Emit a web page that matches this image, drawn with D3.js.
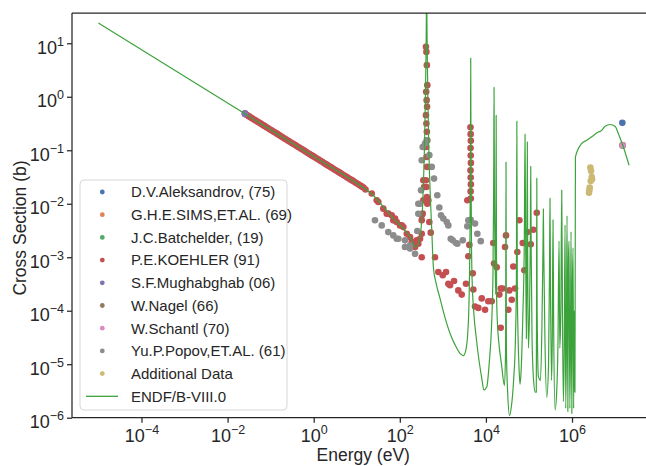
<!DOCTYPE html>
<html>
<head>
<meta charset="utf-8">
<script src="https://cdn.jsdelivr.net/npm/d3@7"></script>
<style>
  body { margin: 0; background: #fff; }
  text { font-family: "Liberation Sans", Arial, sans-serif; fill: #262626; }
</style>
</head>
<body>
<div id="chart"></div>
<script>
// ---- data (energy in eV, cross section in b) ----

// D.V.Aleksandrov, (75)
var aleksE = [0.0253, 1.476e7];
var aleksS = [0.49, 0.325];
// G.H.E.SIMS,ET.AL. (69)
var simsE = [1.49e7];
var simsS = [0.125];
// J.C.Batchelder, (19)
var batchE = [1.5e7];
var batchS = [0.122];
// P.E.KOEHLER (91)
var koehlerE = [0.0253, 0.028, 0.031, 0.034, 0.037, 0.041, 0.045, 0.05, 0.055, 0.06, 0.066, 0.072, 0.08, 0.088,
  0.097, 0.107, 0.118, 0.13, 0.143, 0.158, 0.174, 0.19, 0.21, 0.23, 0.255, 0.28, 0.31, 0.34, 0.375, 0.41, 0.45,
  0.5, 0.55, 0.6, 0.66, 0.73, 0.8, 0.88, 0.97, 1.07, 1.18, 1.3, 1.43, 1.58, 1.74, 1.92, 2.1, 2.3, 2.55, 2.8, 3.1,
  3.4, 3.75, 4.1, 4.5, 5, 5.5, 6, 6.6, 7.3, 8, 8.8, 9.7, 10.7, 11.8, 13, 14.3, 16,
  22.3, 29.1, 31.7, 41.4, 49.7, 54.1, 64.9, 70.6, 77.4, 84.7, 101, 111, 121, 145, 173, 189, 206, 226, 247, 269,
  295, 323, 323, 340, 352, 366, 352, 323, 323,
  405, 415, 425, 435, 410, 420, 430, 405, 415, 425, 435, 410, 420, 430, 405, 415, 425, 435,
  460, 485, 523, 658, 785, 993, 1186, 1340, 1469, 1816, 2286, 2742, 3451, 3908, 4121, 3707,
  4380, 4420, 4460, 4400, 4440, 4480, 4390, 4430, 4470, 4410, 4450,
  4943, 5105, 5585,
  6668, 8000, 9550, 11380, 13650, 14860, 15450, 17830, 22080, 24550, 20510, 27800, 29310, 33190, 35000, 39810,
  43350, 47530, 53700, 22080, 59840, 71600, 78160, 91600, 110000, 126500, 151700];
var koehlerS = [0.48, 0.455, 0.434, 0.413, 0.397, 0.377, 0.36, 0.342, 0.325, 0.312, 0.297, 0.285, 0.27, 0.257,
  0.245, 0.233, 0.222, 0.212, 0.202, 0.192, 0.183, 0.175, 0.166, 0.159, 0.151, 0.144, 0.137, 0.131, 0.125, 0.119, 0.114,
  0.108, 0.103, 0.0985, 0.094, 0.089, 0.085, 0.081, 0.0775, 0.0738, 0.0702, 0.0669, 0.0638, 0.0607, 0.0578, 0.055,
  0.0527, 0.0503, 0.0478, 0.0456, 0.0433, 0.0414, 0.0394, 0.0377, 0.036, 0.0341, 0.0325, 0.0311, 0.0297, 0.0282,
  0.027, 0.0257, 0.0245, 0.0233, 0.0222, 0.0211, 0.0201, 0.0185,
  0.0155, 0.0116, 0.0108, 0.0081, 0.00653, 0.00653, 0.00607, 0.00489, 0.00526, 0.00455, 0.00394, 0.00394, 0.00366,
  0.00275, 0.00238, 0.00192, 0.00192, 0.00155, 0.00207, 0.00179,
  0.00222, 0.00275, 0.00489, 0.00653, 0.0116, 0.0206, 0.0275, 0.001, 0.00607,
  8.6, 6.9, 3.9, 1.65, 1.24, 0.865, 0.648, 0.453, 0.316, 0.221, 0.154, 0.115, 0.075, 0.0488, 0.0275, 0.0206, 0.0134, 0.01,
  0.0116, 0.00455, 0.00288, 0.001, 5.3e-4, 4.6e-4, 5.3e-4, 3.2e-4, 3.0e-4, 3.6e-4, 2.4e-4, 2.0e-4, 3.2e-4, 1.04e-3,
  1.7e-3, 0.0116,
  0.27, 0.2, 0.15, 0.11, 0.08, 0.058, 0.042, 0.031, 0.023, 0.017, 0.0125,
  5.0e-4, 2.5e-4, 1.2e-4,
  1.13e-4, 1.7e-4, 1.04e-4, 1.5e-4, 1.5e-4, 1.84e-3, 7.6e-4, 6.5e-4, 2.6e-4, 2.6e-4, 2.0e-4, 1.55e-3, 2.56e-3, 1.04e-4,
  2.4e-4, 1.6e-4, 6.7e-4, 2.6e-4, 1.25e-3, 4.8e-5, 4.9e-3, 1.84e-3, 5.7e-4, 2.95e-3, 1.74e-3, 3.27e-3, 6.8e-3];
// S.F.Mughabghab (06)
var mughE = [0.0253];
var mughS = [0.475];
// W.Nagel (66)
var nagelE = [1.5e7];
var nagelS = [0.124];
// W.Schantl (70)
var schantlE = [1.5e7];
var schantlS = [0.124];
// Yu.P.Popov,ET.AL. (61)
var popovE = [26.5, 38, 54, 70.6, 84.7, 92.5, 132, 132, 173, 173, 226, 255, 269, 269, 295, 311, 323, 340, 385, 420,
  485, 552, 624, 743, 828, 906, 1026, 1230, 1340, 1524, 1694, 2023, 2168, 2897, 3698, 3908, 4436, 5585, 6324, 7586];
var popovS = [4.9e-3, 3.94e-3, 2.95e-3, 2.56e-3, 2.22e-3, 2.22e-3, 2.07e-3, 1.55e-3, 1.66e-3, 1.45e-3, 1.16e-3,
  3.1e-3, 6.5e-3, 0.01, 0.01, 0.0178, 0.065, 0.115, 0.134, 0.154,
  0.081, 0.0488, 0.0295, 0.0144, 8.5e-3, 6.1e-3, 5.3e-3, 4.55e-3, 3.94e-3, 2.22e-3, 2.07e-3, 1.84e-3, 1.79e-3,
  2.07e-3, 3.78e-3, 4.9e-3, 5.0e-3, 4.25e-3, 2.75e-3, 2.0e-3];
// Additional Data
var extraE = [2.67e6, 2.77e6, 2.87e6, 2.92e6, 2.72e6, 2.58e6, 2.52e6, 2.48e6];
var extraS = [0.0475, 0.041, 0.0316, 0.0286, 0.0266, 0.02, 0.0178, 0.0161];

// ENDF/B-VIII.0 evaluated curve
var endfE = [1e-5, 0.0253, 1, 10, 16.2, 22.3, 30, 41, 60, 85, 125, 173, 205, 225, 245, 270, 295, 315, 335, 355,
  375, 392, 405, 414, 420, 426, 436, 450, 470, 490, 520, 550, 603, 700, 860, 1000, 1230, 1500, 1920, 2500, 2990,
  3400, 3800, 4060, 4250, 4380, 4440, 4500, 4620, 4800, 5200, 6000, 7000, 8000, 9000, 10500, 12000, 13500,
  14600, 15150, 15450, 15750, 16300, 16900, 17300, 17700, 18500, 20000, 23000, 27000, 28700, 29300, 29900,
  32000, 35500, 39000, 44000, 48500, 51000, 52300, 53600, 56000, 59000, 62000, 66000, 72000, 78000, 81000,
  84000, 87000, 89500, 91600, 93500, 97000, 103000, 107500, 110000, 112500, 118000, 128000, 140000, 148000,
  150000, 152000, 155000, 165000, 185000, 200000, 212000, 216000, 220000, 235000, 259000, 285000, 300000,
  308000, 315000, 335000, 348000, 362000, 375000, 404000, 440000, 470000, 500000, 520000, 550000, 577000,
  600000, 630000, 660000, 689000, 715000, 740000, 766000, 800000, 830000, 853000, 890000, 920000, 949000,
  990000, 1020000, 1056000, 1090000, 1130000, 1170000, 1200000, 1680000, 2200000, 2870000, 3600000,
  4090000, 4500000, 4910000, 5850000, 7640000, 9980000, 1.19e7, 1.56e7, 2.11e7];
var endfS = [24, 0.48, 0.0763, 0.0241, 0.0185, 0.0152, 0.012, 0.0088, 0.0062, 0.0046, 0.0033, 0.0024, 0.0018,
  0.00158, 0.00158, 0.0018, 0.0024, 0.0038, 0.0075, 0.025,
  0.12, 0.8, 5, 30, 200, 30, 5, 0.8, 0.12, 0.035, 0.01, 0.0035, 6.5e-4, 3.2e-4, 1.7e-4, 1.05e-4, 5.8e-5, 3.6e-5,
  2.3e-5, 1.6e-5, 1.45e-5,
  1.8e-5, 4e-5, 1.6e-4, 2e-3, 0.08, 5.3, 0.08, 2e-3, 3.5e-4, 1e-4, 3e-5, 1.1e-5, 5.5e-6, 3.3e-6, 3.8e-6, 1.1e-5, 5e-5,
  5e-4, 0.02, 1.5, 0.02, 1.2e-3, 2e-4, 0.45, 2e-4, 6e-5, 2.5e-5, 1e-5, 4e-6, 2e-5, 0.06, 2e-5,
  3e-6, 1.1e-6, 1.6e-6, 5e-6, 3e-5, 3e-4, 0.35, 3e-4, 3e-5, 8e-6, 4.2e-6, 8e-6, 8e-5, 2e-3, 0.2,
  1.5e-3, 3e-5, 1e-3, 0.143, 1e-3, 2e-5, 1e-4, 2e-3, 0.05, 1.5e-3, 3e-5, 5e-6, 3e-6, 3e-6,
  1e-4, 0.03, 1e-4, 6e-6, 5e-6, 5e-5, 1.5e-3, 0.008, 1.5e-3, 3e-5, 2.4e-6, 1e-5, 5e-4,
  0.0127, 5e-4, 5e-6, 3e-5, 0.005, 5e-5, 1.4e-6, 3e-6, 2e-5, 0.002, 2e-5, 1e-4, 0.018,
  1e-4, 2e-6, 2e-5, 0.004, 1.5e-6, 2e-5, 0.006, 1.3e-6, 0.001, 0.002, 1.5e-6, 2e-5, 0.003,
  1.2e-6, 2e-4, 0.0015, 1.5e-6, 1e-4, 3e-6, 0.075, 0.134, 0.154, 0.178, 0.205,
  0.22, 0.225, 0.237, 0.282, 0.303, 0.282, 0.206, 0.115, 0.0525];

// ---- layout ----
var svgWidth = 646;
var svgHeight = 466;
var plotLeft = 72, plotRight = 654.5, plotTop = 13, plotBottom = 417.7;

var svg = d3.select("#chart")
  .append("svg")
  .attr("width", svgWidth)
  .attr("height", svgHeight);

var xScale = d3.scaleLog()
  .domain([Math.pow(10, -5.614), Math.pow(10, 7.916)])
  .range([plotLeft, plotRight]);

var yScale = d3.scaleLog()
  .domain([1e-6, Math.pow(10, 1.566)])
  .range([plotBottom, plotTop]);

svg.append("clipPath").attr("id", "plot-clip")
  .append("rect")
  .attr("x", plotLeft).attr("y", plotTop)
  .attr("width", plotRight - plotLeft).attr("height", plotBottom - plotTop);

var plotGroup = svg.append("g").attr("clip-path", "url(#plot-clip)");

// scatter series, drawn in legend order
var series = [
  { name: "D.V.Aleksandrov, (75)", E: aleksE, S: aleksS, color: "#4c72b0" },
  { name: "G.H.E.SIMS,ET.AL. (69)", E: simsE, S: simsS, color: "#dd8452" },
  { name: "J.C.Batchelder, (19)", E: batchE, S: batchS, color: "#55a868" },
  { name: "P.E.KOEHLER (91)", E: koehlerE, S: koehlerS, color: "#c44e52" },
  { name: "S.F.Mughabghab (06)", E: mughE, S: mughS, color: "#8172b3" },
  { name: "W.Nagel (66)", E: nagelE, S: nagelS, color: "#937860" },
  { name: "W.Schantl (70)", E: schantlE, S: schantlS, color: "#da8bc3" },
  { name: "Yu.P.Popov,ET.AL. (61)", E: popovE, S: popovS, color: "#8c8c8c" },
  { name: "Additional Data", E: extraE, S: extraS, color: "#ccb974" }
];

series.forEach(function(s) {
  var pts = s.E.map(function(e, i) { return [e, s.S[i]]; });
  plotGroup.append("g")
    .selectAll("circle")
    .data(pts)
    .enter()
    .append("circle")
    .attr("cx", d => xScale(d[0]))
    .attr("cy", d => yScale(d[1]))
    .attr("r", 3.3)
    .attr("fill", s.color);
});

// ENDF line on top
var endfPts = endfE.map(function(e, i) { return [e, endfS[i]]; });
var line = d3.line()
  .x(d => xScale(d[0]))
  .y(d => yScale(d[1]))
  .curve(d3.curveMonotoneX);

plotGroup.append("path")
  .datum(endfPts)
  .attr("d", line)
  .attr("fill", "none")
  .attr("stroke", "#3ca33c")
  .attr("stroke-width", 1.2)
  .attr("stroke-linejoin", "round");

// ---- axes ----
function supLabel(sel) {
  sel.each(function(d) {
    var p = Math.round(Math.log10(d));
    var t = d3.select(this);
    t.text(null);
    t.append("tspan").text("10");
    t.append("tspan")
      .attr("dy", "-0.62em")
      .attr("font-size", "12.5px")
      .text(p < 0 ? "\u2212" + (-p) : String(p));
  });
}

var xAxis = d3.axisBottom(xScale)
  .tickValues([1e-4, 1e-2, 1, 1e2, 1e4, 1e6])
  .tickSizeOuter(0)
  .tickSize(5);

var xAxisG = svg.append("g")
  .attr("transform", `translate(0,${plotBottom})`)
  .call(xAxis);
xAxisG.selectAll(".tick text")
  .attr("y", 24)
  .attr("dy", 0)
  .attr("font-size", "18px")
  .attr("text-anchor", "middle")
  .call(supLabel);

var yAxis = d3.axisLeft(yScale)
  .tickValues([1e-6, 1e-5, 1e-4, 1e-3, 1e-2, 1e-1, 1, 10])
  .tickSizeOuter(0)
  .tickSize(5);

var yAxisG = svg.append("g")
  .attr("transform", `translate(${plotLeft},0)`)
  .call(yAxis);
yAxisG.selectAll(".tick text")
  .attr("x", -8)
  .attr("dy", "0.55em")
  .attr("font-size", "18px")
  .attr("text-anchor", "end")
  .call(supLabel);

svg.selectAll(".domain").remove();
svg.selectAll(".tick line").attr("stroke", "#262626").attr("stroke-width", 1.25);

// spines: left, bottom, top (right one falls outside the picture)
svg.append("line").attr("x1", plotLeft).attr("x2", plotLeft).attr("y1", plotTop).attr("y2", plotBottom)
  .attr("stroke", "#262626").attr("stroke-width", 1.25);
svg.append("line").attr("x1", plotLeft).attr("x2", svgWidth).attr("y1", plotBottom).attr("y2", plotBottom)
  .attr("stroke", "#262626").attr("stroke-width", 1.25);
svg.append("line").attr("x1", plotLeft).attr("x2", svgWidth).attr("y1", plotTop).attr("y2", plotTop)
  .attr("stroke", "#262626").attr("stroke-width", 1.25);

// axis titles
svg.append("text")
  .attr("x", (plotLeft + plotRight) / 2)
  .attr("y", 461)
  .attr("text-anchor", "middle")
  .attr("font-size", "17.5px")
  .text("Energy (eV)");

svg.append("text")
  .attr("transform", `translate(26,228) rotate(-90)`)
  .attr("text-anchor", "middle")
  .attr("font-size", "17.5px")
  .text("Cross Section (b)");

// ---- legend ----
var legend = svg.append("g").attr("transform", "translate(80,180)");
legend.append("rect")
  .attr("width", 207).attr("height", 230)
  .attr("rx", 4)
  .attr("fill", "#fff").attr("fill-opacity", 0.85)
  .attr("stroke", "#d6d6d6");

series.forEach(function(s, i) {
  var ly = 12 + i * 22.7;
  legend.append("circle").attr("cx", 22.3).attr("cy", ly).attr("r", 2.4).attr("fill", s.color);
  legend.append("text").attr("x", 51).attr("y", ly + 5.3).attr("font-size", "15px").text(s.name);
});
var lineY = 12 + 9 * 22.7;
legend.append("line").attr("x1", 6).attr("x2", 38).attr("y1", lineY).attr("y2", lineY)
  .attr("stroke", "#3ca33c").attr("stroke-width", 1.3);
legend.append("text").attr("x", 51).attr("y", lineY + 5.3).attr("font-size", "15px").text("ENDF/B-VIII.0");
</script>
</body>
</html>
